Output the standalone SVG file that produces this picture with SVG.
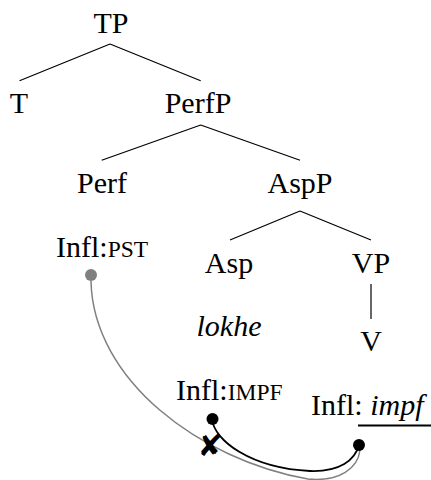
<svg xmlns="http://www.w3.org/2000/svg" width="431" height="480" viewBox="0 0 431 480">
<style>
.edge{stroke:#000;stroke-width:1.2;fill:none}
.grey{stroke:#808080;stroke-width:1.5;fill:none}
.blk{stroke:#000;stroke-width:1.8;fill:none}
</style>
<rect width="431" height="480" fill="#fff"/>
<g id="connectors">
<path class="edge" d="M110 44 L19.5 80.7 M110 44 L200.7 80.7"/>
<path class="edge" d="M200.7 125 L101.7 160.3 M200.7 125 L300 160.3"/>
<path class="edge" d="M300 211 L230 240 M300 211 L371 240"/>
<path class="edge" d="M371 284 L371 319"/>
<path class="grey" d="M91 281 C93 380 200 460 308 479 C340 482 358 468 360 450"/>
<path class="blk" d="M212 419 C214 440 250 468 310 471 C340 472 355 460 359 445"/>
<line x1="358" y1="425.5" x2="431" y2="425.5" stroke="#000" stroke-width="2"/>
</g>
<g id="TP"><text style="font-family:'Liberation Serif',serif;font-size:30px" text-anchor="middle" x="111" y="33">TP</text></g>
<g id="T"><text style="font-family:'Liberation Serif',serif;font-size:30px" text-anchor="middle" x="19" y="113">T</text></g>
<g id="PerfP"><text style="font-family:'Liberation Serif',serif;font-size:30px" text-anchor="middle" x="198" y="113">PerfP</text></g>
<g id="Perf"><text style="font-family:'Liberation Serif',serif;font-size:30px" text-anchor="middle" x="102" y="193">Perf</text></g>
<g id="AspP"><text style="font-family:'Liberation Serif',serif;font-size:30px" text-anchor="middle" x="300" y="193">AspP</text></g>
<g id="Asp"><text style="font-family:'Liberation Serif',serif;font-size:30px" text-anchor="middle" x="229" y="273">Asp</text></g>
<g id="VP"><text style="font-family:'Liberation Serif',serif;font-size:30px" text-anchor="middle" x="371" y="273">VP</text></g>
<g id="lokhe"><text style="font-family:'Liberation Serif',serif;font-size:30px;font-style:italic" text-anchor="middle" x="229" y="336">lokhe</text></g>
<g id="V"><text style="font-family:'Liberation Serif',serif;font-size:30px" text-anchor="middle" x="371" y="351">V</text></g>
<g id="InflPST"><text style="font-family:'Liberation Serif',serif;font-size:30px" x="56" y="257">Infl:<tspan style="font-size:23.5px">PST</tspan></text><circle cx="91" cy="275" r="6" fill="#808080"/></g>
<g id="InflIMPF"><text style="font-family:'Liberation Serif',serif;font-size:30px" x="176" y="400">Infl:<tspan style="font-size:23.5px">IMPF</tspan></text><circle cx="212.5" cy="419" r="6" fill="#000"/></g>
<g id="InflImpf"><text style="font-family:'Liberation Serif',serif;font-size:30px" x="311" y="415">Infl: <tspan style="font-style:italic">impf</tspan></text><circle cx="359" cy="445" r="6" fill="#000"/></g>
<g id="cross"><text x="210" y="456" text-anchor="middle" style="font-family:'DejaVu Sans',sans-serif;font-size:30px">✘</text></g>
</svg>
